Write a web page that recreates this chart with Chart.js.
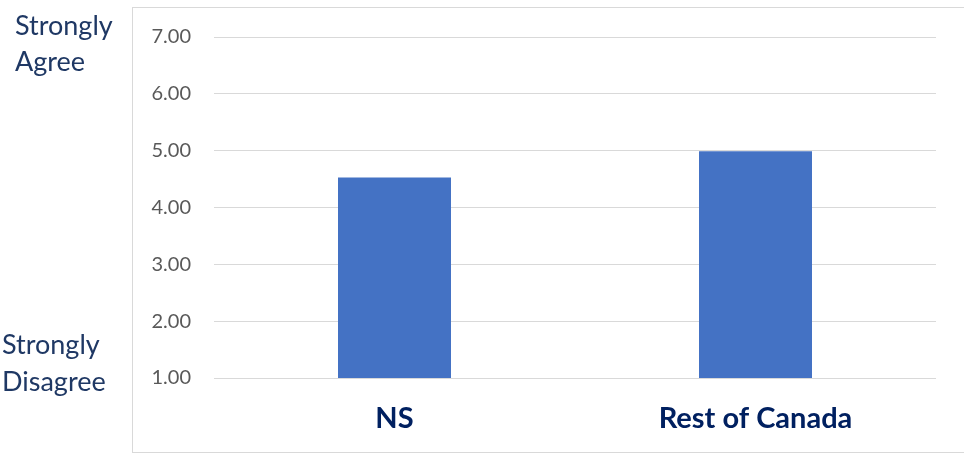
<!DOCTYPE html>
<html>
<head>
<meta charset="utf-8">
<script src="https://cdn.jsdelivr.net/npm/chart.js@4/dist/chart.umd.min.js"></script>
<style>
  html, body { margin: 0; padding: 0; background: #fff; }
  #wrap { position: relative; width: 964px; height: 456px; }
</style>
</head>
<body>
<div id="wrap"><canvas id="agreeChart" width="964" height="456"></canvas></div>
<script>
// Mean agreement score, 1 = strongly disagree, 7 = strongly agree
const regions = ['NS', 'Rest of Canada'];
const meanScores = [4.53, 4.99];
const scaleMin = 1;
const scaleMax = 7;

// Frame + the anchor words beside the scale
const sideLabels = {
    id: 'sideLabels',
    beforeDraw(chart) {
        const ctx = chart.ctx;
        ctx.save();
        ctx.strokeStyle = '#d9d9d9';
        ctx.lineWidth = 1;
        ctx.strokeRect(132.5, 7.5, 840, 445);

        ctx.fillStyle = '#1f3864';
        ctx.font = '27px Lato';
        ctx.textBaseline = 'middle';
        ctx.textAlign = 'left';
        ctx.fillText('Strongly', 15, 26);
        ctx.fillText('Agree', 15, 62);
        ctx.fillText('Strongly', 2, 345);
        ctx.fillText('Disagree', 2, 382);
        ctx.restore();
    }
};

new Chart(document.getElementById('agreeChart'), {
    type: 'bar',
    data: {
        labels: regions,
        datasets: [{
            data: meanScores,
            backgroundColor: '#4472c4',
            barPercentage: 0.313,
            categoryPercentage: 1.0
        }]
    },
    options: {
        responsive: false,
        animation: false,
        layout: { padding: { left: 133, right: 28, top: 37, bottom: 0 } },
        plugins: { legend: { display: false }, tooltip: { enabled: false } },
        scales: {
            x: {
                grid: { display: false, drawTicks: false },
                border: { display: false },
                ticks: {
                    color: '#002060',
                    font: { family: 'Lato', size: 29, weight: 'bold' },
                    padding: 23
                },
                afterFit: (s) => { s.height = 78; }
            },
            y: {
                min: scaleMin,
                max: scaleMax,
                grid: { color: '#d9d9d9', drawTicks: false },
                border: { display: false },
                ticks: {
                    stepSize: 1,
                    color: '#595959',
                    font: { family: 'Lato', size: 20 },
                    padding: 23,
                    callback: (v) => v.toFixed(2)
                },
                afterFit: (s) => { s.width = 81; }
            }
        }
    },
    plugins: [sideLabels]
});
</script>
</body>
</html>
